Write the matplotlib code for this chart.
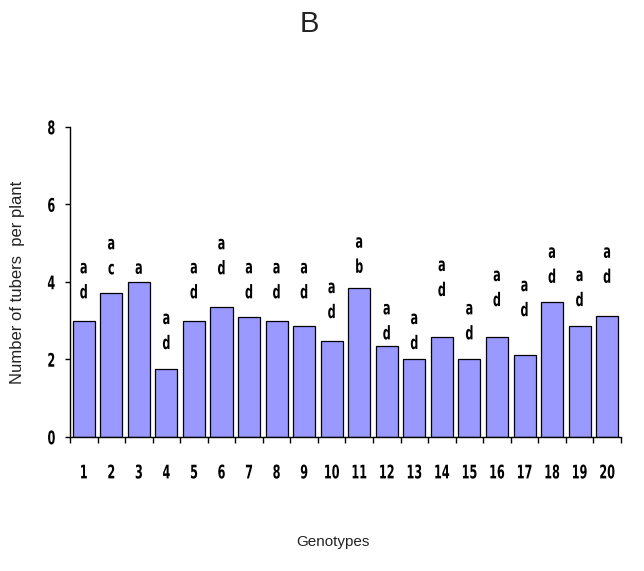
import matplotlib.pyplot as plt
import matplotlib.patheffects as pe
from matplotlib.transforms import Affine2D
import numpy as np

# Tubers per plant by genotype, with significance groups above each bar
genotypes = [str(i) for i in range(1, 21)]
tubers = [3.00, 3.72, 4.00, 1.76, 3.00, 3.35, 3.10, 3.00, 2.87, 2.47,
          3.85, 2.35, 2.00, 2.58, 2.00, 2.58, 2.12, 3.49, 2.87, 3.11]
groups = ['ad', 'ac', 'a', 'ad', 'ad', 'ad', 'ad', 'ad', 'ad', 'ad',
          'ab', 'ad', 'ad', 'ad', 'ad', 'ad', 'ad', 'ad', 'ad', 'ad']
# centre height (data units) of each stacked group label
label_y = [4.05, 4.67, 4.36, 2.74, 4.05, 4.67, 4.05, 4.05, 4.05, 3.54,
           4.71, 2.99, 2.74, 4.11, 2.99, 3.85, 3.59, 4.45, 3.85, 4.45]


class Stretch(pe.AbstractPathEffect):
    """Stretch glyphs vertically about mid cap height (tall narrow look)."""

    def __init__(self, sy=1.5, mid=36):
        super().__init__()
        self.sy = sy
        self.mid = mid

    def draw_path(self, renderer, gc, tpath, affine, rgbFace=None):
        t = Affine2D().translate(0, -self.mid).scale(1, self.sy).translate(0, self.mid)
        renderer.draw_path(gc, tpath, t + affine, rgbFace)


tall = [Stretch(1.5)]
narrow = dict(family='DejaVu Sans', fontstretch='condensed', fontweight='bold')
plain = ['Liberation Sans', 'DejaVu Sans']

fig = plt.figure(figsize=(6.44, 5.71), dpi=100)
ax = fig.add_axes([0.1087, 0.2347, 0.8555, 0.5429])

x = np.arange(len(genotypes))
ax.bar(x, tubers, width=0.8, color='#9999ff', edgecolor='black', linewidth=0.9)

for xi, g, y in zip(x, groups, label_y):
    ax.text(xi, y, '\n'.join(g), ha='center', va='center', fontsize=9,
            linespacing=2.2, path_effects=tall, **narrow)

ax.set_xlim(-0.5, len(genotypes) - 0.5)
ax.set_ylim(0, 8)
ax.set_yticks([0, 2, 4, 6, 8])
ax.set_xticks(x)
ax.set_xticklabels(genotypes)
ax.set_xticks(np.arange(len(genotypes) + 1) - 0.5, minor=True)

for side in ['top', 'right']:
    ax.spines[side].set_visible(False)
for side in ['left', 'bottom']:
    ax.spines[side].set_linewidth(1.0)

ax.tick_params(axis='x', which='major', length=0, pad=21)
ax.tick_params(axis='x', which='minor', length=4.3, width=1.0, direction='out')
ax.tick_params(axis='y', length=3.6, width=1.0, direction='out', pad=7)
for lbl in ax.get_xticklabels() + ax.get_yticklabels():
    lbl.set_family('DejaVu Sans')
    lbl.set_fontstretch('condensed')
    lbl.set_fontweight('bold')
    lbl.set_fontsize(9)
    lbl.set_path_effects(tall)

fig.text(18 / 644, 0.506, 'Number of tubers  per plant', rotation=90,
         ha='center', va='center', fontsize=12, family=plain, color='#222222')
fig.text(0.517, 0.051, 'Genotypes', ha='center', va='center', fontsize=11,
         family=plain, color='#222222')
fig.text(0.481, 0.958, 'B', ha='center', va='center', fontsize=21,
         family=plain, color='#222222')

fig.savefig('out.png', dpi=100)
